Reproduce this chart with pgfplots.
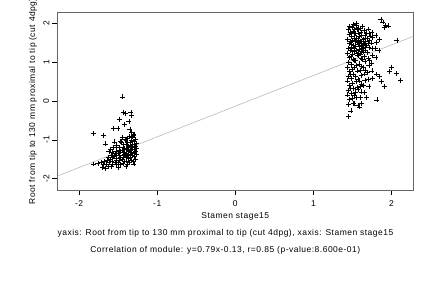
\documentclass[border=0pt]{standalone}
\usepackage{pgfplots}
\pgfplotsset{compat=1.18}
\usepackage{fontspec}
\setmainfont[LetterSpace=6]{Liberation Sans}
\begin{document}
\fontsize{8.5}{10}\selectfont
\begin{tikzpicture}[x=1bp,y=1bp]
\useasboundingbox (0,0) rectangle (432,288);
\begin{axis}[
  at={(57.3bp,98bp)}, anchor=south west, scale only axis,
  width=356bp, height=177.3bp,
  xmin=-2.28, xmax=2.28, ymin=-2.29, ymax=2.28,
  axis line style={black!60, line width=0.6pt},
  xtick={-2,-1,0,1,2}, xticklabels={-2,-1,0,1,2},
  ytick={-2,-1,0,1,2}, yticklabels={-2,-1,0,1,2},
  xtick pos=bottom, ytick pos=left, tick align=outside,
  major tick length=5bp,
  tick style={black, line width=0.5pt},
  xticklabel style={yshift=-2.5bp},
  yticklabel style={rotate=90, anchor=south},
  clip=true,
]
\addplot[only marks, mark=+, mark size=2.5pt, mark options={line width=0.6pt}, black] coordinates {
(-1.449,0.11) (-1.436,-0.28) (-1.41,-0.32) (-1.338,-0.29) (-1.326,-0.37)
(-1.487,-0.47) (-1.363,-0.52) (-1.423,-0.60) (-1.564,-0.70) (-1.504,-0.70)
(-1.35,-0.73) (-1.821,-0.84) (-1.692,-0.88) (-1.667,-1.10) (-1.821,-1.62)
(-1.33,-0.80) (-1.30,-0.85) (-1.32,-0.92) (-1.38,-0.95) (-1.45,-0.93)
(-1.28,-0.98) (-1.40,-1.00) (-1.47,-1.03) (-1.55,-1.05)
(-1.28,-0.99) (-1.29,-1.04) (-1.27,-1.08) (-1.30,-1.12) (-1.28,-1.16) (-1.27,-1.21)
(-1.29,-1.25) (-1.28,-1.30) (-1.30,-1.34) (-1.27,-1.38) (-1.29,-1.43) (-1.28,-1.49) (-1.31,-1.55)
(-1.33,-1.02) (-1.34,-1.07) (-1.32,-1.10) (-1.35,-1.14) (-1.33,-1.19) (-1.32,-1.23)
(-1.34,-1.27) (-1.33,-1.32) (-1.35,-1.36) (-1.32,-1.40) (-1.34,-1.45) (-1.33,-1.52) (-1.36,-1.58)
(-1.38,-1.06) (-1.39,-1.12) (-1.37,-1.17) (-1.40,-1.21) (-1.38,-1.25) (-1.37,-1.30)
(-1.39,-1.34) (-1.38,-1.39) (-1.40,-1.43) (-1.37,-1.48) (-1.39,-1.54) (-1.38,-1.62)
(-1.43,-1.12) (-1.44,-1.18) (-1.42,-1.23) (-1.45,-1.27) (-1.43,-1.31) (-1.42,-1.36)
(-1.44,-1.40) (-1.43,-1.45) (-1.45,-1.50) (-1.42,-1.55) (-1.44,-1.60)
(-1.48,-1.20) (-1.49,-1.26) (-1.47,-1.31) (-1.50,-1.35) (-1.48,-1.39) (-1.47,-1.44)
(-1.49,-1.48) (-1.48,-1.53) (-1.50,-1.58) (-1.47,-1.63)
(-1.53,-1.28) (-1.54,-1.34) (-1.52,-1.39) (-1.55,-1.43) (-1.53,-1.48) (-1.52,-1.53)
(-1.54,-1.58) (-1.53,-1.64)
(-1.58,-1.33) (-1.59,-1.40) (-1.57,-1.46) (-1.60,-1.51) (-1.58,-1.56) (-1.57,-1.62) (-1.59,-1.68)
(-1.63,-1.45) (-1.64,-1.52) (-1.62,-1.57) (-1.65,-1.62) (-1.63,-1.68)
(-1.68,-1.55) (-1.69,-1.63) (-1.70,-1.70) (-1.72,-1.58)
(-1.62,-1.30) (-1.56,-1.20) (-1.52,-1.15) (-1.46,-1.05) (-1.41,-0.98) (-1.36,-0.90)
(-1.31,-0.88) (-1.76,-1.60) (-1.66,-1.73) (-1.50,-1.70) (-1.40,-1.68) (-1.30,-1.62) (-1.60,-1.25)
(1.45,1.85) (1.46,1.72) (1.44,1.60) (1.46,1.48) (1.45,1.36) (1.44,1.24) (1.46,1.12)
(1.45,1.00) (1.44,0.88) (1.46,0.76) (1.45,0.64) (1.44,0.52) (1.46,0.40) (1.45,0.28)
(1.44,0.16) (1.46,0.04) (1.45,-0.08) (1.449,-0.387)
(1.50,1.90) (1.51,1.80) (1.49,1.68) (1.50,1.56) (1.51,1.44) (1.49,1.32) (1.50,1.20)
(1.51,1.08) (1.49,0.95) (1.50,0.82) (1.51,0.70) (1.49,0.58) (1.50,0.45) (1.51,0.32)
(1.49,0.20) (1.50,0.08) (1.52,-0.05)
(1.55,1.95) (1.56,1.84) (1.54,1.74) (1.55,1.63) (1.56,1.52) (1.54,1.41) (1.55,1.30)
(1.56,1.19) (1.54,1.06) (1.55,0.92) (1.56,0.78) (1.54,0.64) (1.55,0.50) (1.56,0.36)
(1.54,0.22) (1.55,0.10) (1.57,-0.10)
(1.60,1.88) (1.61,1.77) (1.59,1.66) (1.60,1.55) (1.61,1.44) (1.59,1.33) (1.60,1.22)
(1.61,1.10) (1.59,0.96) (1.60,0.80) (1.61,0.66) (1.59,0.52) (1.60,0.38) (1.61,0.24) (1.60,0.10)
(1.65,1.82) (1.66,1.71) (1.64,1.60) (1.65,1.49) (1.66,1.38) (1.64,1.27) (1.65,1.16)
(1.66,1.02) (1.64,0.86) (1.65,0.70) (1.66,0.54) (1.64,0.40) (1.65,0.22)
(1.70,1.86) (1.71,1.74) (1.69,1.62) (1.70,1.50) (1.71,1.38) (1.69,1.25) (1.70,1.10)
(1.71,0.92) (1.69,0.74) (1.70,0.56) (1.71,0.38)
(1.75,1.78) (1.76,1.64) (1.74,1.50) (1.75,1.35) (1.76,1.18) (1.74,0.98) (1.75,0.78) (1.76,0.58)
(1.80,1.70) (1.81,1.52) (1.79,1.36) (1.80,1.12) (1.81,0.70) (1.813,0.03)
(1.556,2.0) (1.864,2.106) (1.89,2.04) (1.923,1.96) (1.962,1.94) (1.91,1.91) (2.069,1.57)
(1.996,0.88) (1.974,0.77) (2.06,0.72) (2.111,0.54) (1.91,0.39) (1.846,0.64) (1.868,0.50)
(1.59,-0.15) (1.513,-0.06) (1.85,1.60) (1.84,1.30) (1.48,-0.25) (1.62,-0.05) (1.68,0.10)
(1.47,1.78) (1.52,1.62) (1.57,1.46) (1.62,1.70) (1.67,1.55) (1.48,1.40) (1.53,1.28)
(1.58,1.58) (1.63,1.36) (1.68,1.44) (1.47,1.55) (1.52,1.75) (1.57,1.88) (1.62,1.50)
(1.67,1.30) (1.72,1.56) (1.48,1.15) (1.53,1.05) (1.58,1.18) (1.63,1.08)
(1.46,1.92) (1.51,1.98) (1.53,1.86) (1.58,1.76) (1.63,1.92) (1.68,1.76) (1.73,1.68)
(1.47,1.30) (1.52,1.36) (1.57,1.24) (1.62,1.28) (1.66,1.62) (1.49,1.47) (1.54,1.55)
(1.59,1.42) (1.64,1.46) (1.47,0.70) (1.52,0.88) (1.57,0.56) (1.62,0.44) (1.67,0.80)
(1.47,0.34) (1.52,0.14) (1.57,0.30) (1.62,0.90) (1.72,1.05)
};
\addplot[gray!55, line width=0.6pt] coordinates {(-2.28,-1.9312) (2.28,1.6712)};
\end{axis}
\node[rotate=90] at (33,186.7) {Root from tip to 130 mm proximal to tip (cut 4dpg)};
\node at (235.3,72) {Stamen stage15};
\node at (225.5,54.7) {yaxis: Root from tip to 130 mm proximal to tip (cut 4dpg), xaxis: Stamen stage15};
\node at (225.3,38) {Correlation of module: y=0.79x-0.13, r=0.85 (p-value:8.600e-01)};
\end{tikzpicture}
\end{document}
